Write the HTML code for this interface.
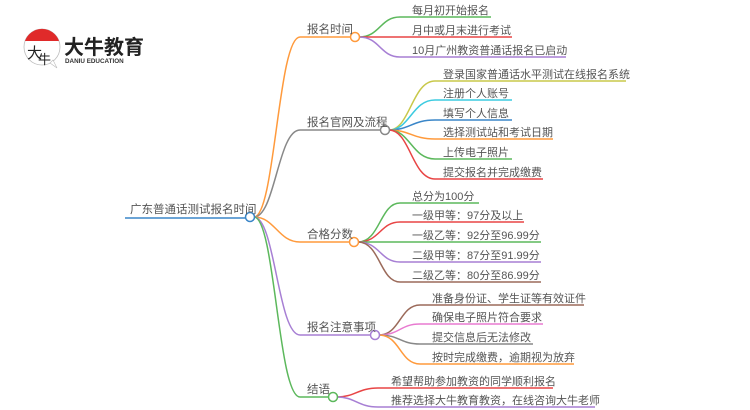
<!DOCTYPE html>
<html><head><meta charset="utf-8"><style>
html,body{margin:0;padding:0;background:#fff;}
svg{display:block;}
text{font-family:"Liberation Sans","Noto Sans CJK SC",sans-serif;fill:#555;}
</style></head><body>
<svg width="750" height="410" viewBox="0 0 750 410" xmlns="http://www.w3.org/2000/svg">
<g>
<circle cx="42" cy="47" r="18" fill="#fff" stroke="#bbb" stroke-width="0.8"/>
<path d="M25,41 A18,18 0 0 1 59,41 Z" fill="#e02a2a"/>
<path d="M50,63 L57,68 L53,60 Z" fill="#fff" stroke="#bbb" stroke-width="0.6"/>
<text x="27" y="58" font-size="15" style="fill:#222">大</text>
<text x="38" y="64" font-size="13" style="fill:#222">牛</text>
<text x="64" y="54" font-size="20" font-weight="bold" style="fill:#222">大牛教育</text>
<text x="65" y="63" font-size="6.3" font-weight="bold" style="fill:#333">DANIU EDUCATION</text>
</g>
<g fill="none" stroke-width="1.5">
<path d="M125,218 H246" stroke="#3a86c8"/>
<path d="M254,217 C275,217 278,37 300,37 H351" stroke="#ff9a3c"/>
<path d="M254,217 C275,217 278,130 300,130 H381" stroke="#888"/>
<path d="M254,217 C275,217 278,242 300,242 H350" stroke="#ff9a3c"/>
<path d="M254,217 C275,217 278,335 300,335 H371" stroke="#a77fd4"/>
<path d="M254,217 C275,217 278,397 300,397 H329" stroke="#5cb85c"/>
<path d="M359,37 C380,37 380,17 400,17 H491" stroke="#5cb85c"/>
<path d="M359,37 C380,37 380,37 400,37 H512" stroke="#e84545"/>
<path d="M359,37 C380,37 380,57 400,57 H566" stroke="#a77fd4"/>
<path d="M389,130 C410,130 412,81 435,81 H626" stroke="#c8c84a"/>
<path d="M389,130 C410,130 412,100 435,100 H512" stroke="#3ccbe0"/>
<path d="M389,130 C410,130 412,120 435,120 H512" stroke="#3a86c8"/>
<path d="M389,130 C410,130 412,139 435,139 H553" stroke="#ff9a3c"/>
<path d="M389,130 C410,130 412,159 435,159 H512" stroke="#5cb85c"/>
<path d="M389,130 C410,130 412,179 435,179 H543" stroke="#e84545"/>
<path d="M358,242 C380,242 380,203 400,203 H479" stroke="#5cb85c"/>
<path d="M358,242 C380,242 380,222 400,222 H524" stroke="#e84545"/>
<path d="M358,242 C380,242 380,242 400,242 H541" stroke="#5cb85c"/>
<path d="M358,242 C380,242 380,262 400,262 H541" stroke="#a77fd4"/>
<path d="M358,242 C380,242 380,282 400,282 H541" stroke="#9b6a5a"/>
<path d="M379,335 C400,335 400,305 420,305 H584" stroke="#9b6a5a"/>
<path d="M379,335 C400,335 400,324 420,324 H543" stroke="#e87ad0"/>
<path d="M379,335 C400,335 400,344 420,344 H533" stroke="#888"/>
<path d="M379,335 C400,335 400,364 420,364 H574" stroke="#ff9a3c"/>
<path d="M337,397 C355,397 358,388 378,388 H553" stroke="#e84545"/>
<path d="M337,397 C355,397 358,407 378,407 H595" stroke="#a77fd4"/>
</g>
<g fill="#fff" stroke-width="1.5">
<circle cx="250" cy="217" r="4.5" stroke="#3a86c8"/>
<circle cx="355" cy="37" r="4.5" stroke="#ff9a3c"/>
<circle cx="385" cy="130" r="4.5" stroke="#888"/>
<circle cx="354" cy="242" r="4.5" stroke="#ff9a3c"/>
<circle cx="375" cy="335" r="4.5" stroke="#a77fd4"/>
<circle cx="333" cy="397" r="4.5" stroke="#5cb85c"/>
</g>
<g font-size="11.5">
<text x="130" y="213">广东普通话测试报名时间</text>
</g>
<g font-size="11.5">
<text x="307" y="33">报名时间</text>
<text x="307" y="126">报名官网及流程</text>
<text x="307" y="238">合格分数</text>
<text x="307" y="331">报名注意事项</text>
<text x="307" y="393">结语</text>
</g>
<g font-size="11">
<text x="412" y="14">每月初开始报名</text>
<text x="412" y="34">月中或月末进行考试</text>
<text x="412" y="54">10月广州教资普通话报名已启动</text>
<text x="443" y="78">登录国家普通话水平测试在线报名系统</text>
<text x="443" y="97">注册个人账号</text>
<text x="443" y="117">填写个人信息</text>
<text x="443" y="136">选择测试站和考试日期</text>
<text x="443" y="156">上传电子照片</text>
<text x="443" y="176">提交报名并完成缴费</text>
<text x="412" y="200">总分为100分</text>
<text x="412" y="219">一级甲等：97分及以上</text>
<text x="412" y="239">一级乙等：92分至96.99分</text>
<text x="412" y="259">二级甲等：87分至91.99分</text>
<text x="412" y="279">二级乙等：80分至86.99分</text>
<text x="432" y="302">准备身份证、学生证等有效证件</text>
<text x="432" y="321">确保电子照片符合要求</text>
<text x="432" y="341">提交信息后无法修改</text>
<text x="432" y="361">按时完成缴费，逾期视为放弃</text>
<text x="391" y="385">希望帮助参加教资的同学顺利报名</text>
<text x="391" y="404">推荐选择大牛教育教资，在线咨询大牛老师</text>
</g>
</svg>
</body></html>
